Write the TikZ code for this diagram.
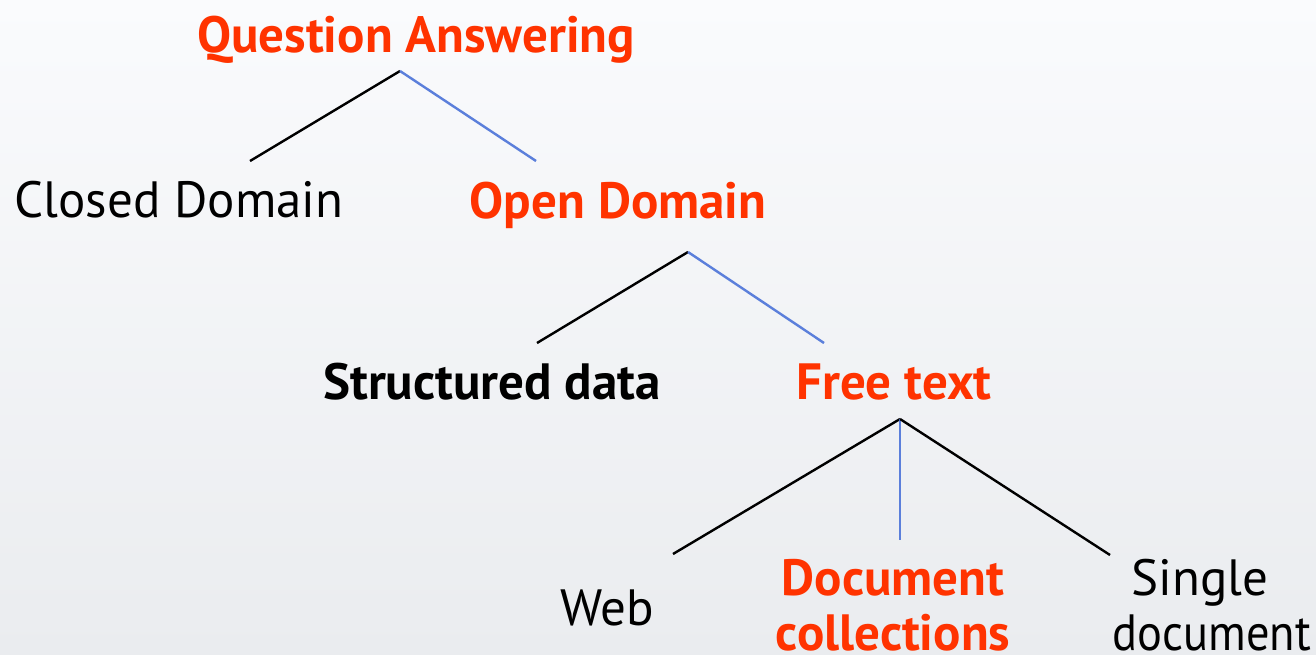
\documentclass[tikz,border=0pt]{standalone}
\usepackage{fontspec}
\setmainfont{PT Sans}
\definecolor{qred}{HTML}{FF3300}
\definecolor{qblue}{HTML}{5B7FDB}
\definecolor{bgtop}{HTML}{FAFBFD}
\definecolor{bgbot}{HTML}{EAECEF}
\begin{document}
\begin{tikzpicture}[x=1pt,y=-1pt,
  lbl/.style={anchor=base,inner sep=0pt,font=\fontsize{51}{55}\selectfont,align=center},
  hot/.style={lbl,text=qred,font=\fontsize{51}{55}\selectfont\bfseries},
  plain/.style={lbl,text=black},
  strong/.style={lbl,text=black,font=\fontsize{51}{55}\selectfont\bfseries},
  blk/.style={draw=black,line width=2.4pt},
  blu/.style={draw=qblue,line width=2.4pt}]
\fill[top color=bgtop,bottom color=bgbot] (0,0) rectangle (1316,655);
\useasboundingbox (0,0) rectangle (1316,655);
\node[hot] (qa) at (416,53) {Question Answering};
\node[plain] (cd) at (179,217) {Closed Domain};
\node[hot] (od) at (618,218) {Open Domain};
\node[strong] (sd) at (492,399) {Structured data};
\node[hot] (ft) at (894,399) {Free text};
\node[plain] (web) at (607,625) {Web};
\node[hot] (dc) at (893,650) {Document\\collections};
\node[plain] (sg) at (1212,650) {Single\hspace*{24pt}\\\scalebox{0.91}[1]{document}};
\coordinate (j1) at (400,71);
\coordinate (e1a) at (250,161);
\coordinate (e1b) at (536,161);
\coordinate (j2) at (688,252);
\coordinate (e2a) at (537,343);
\coordinate (e2b) at (824,343);
\coordinate (j3) at (900,419);
\coordinate (e3a) at (673,554);
\coordinate (e3b) at (900,540);
\coordinate (e3c) at (1110,555);
\draw[blk] (j1) -- (e1a);
\draw[blu] (j1) -- (e1b);
\draw[blk] (j2) -- (e2a);
\draw[blu] (j2) -- (e2b);
\draw[blk] (j3) -- (e3a);
\draw[blu] (j3) -- (e3b);
\draw[blk] (j3) -- (e3c);
\end{tikzpicture}
\end{document}
